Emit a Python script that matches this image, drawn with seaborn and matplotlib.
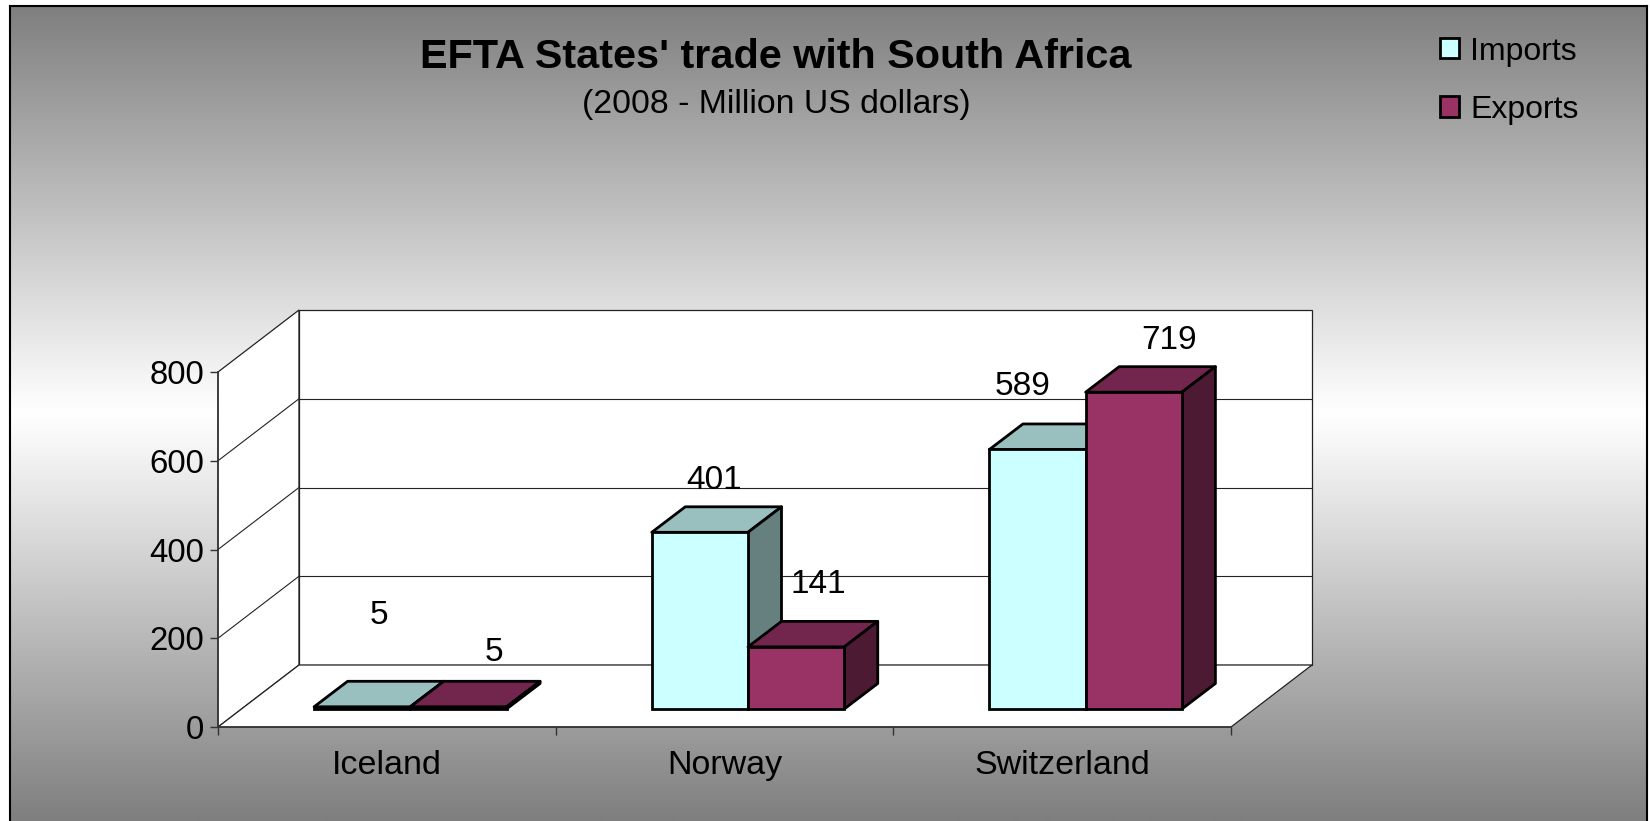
import numpy as np
import pandas as pd
import seaborn as sns
import matplotlib.pyplot as plt
from matplotlib.colors import LinearSegmentedColormap, to_rgb
from matplotlib.patches import Polygon
from matplotlib.transforms import Affine2D

# Chart data
countries = ["Iceland", "Norway", "Switzerland"]
imports = [5, 401, 589]
exports = [5, 141, 719]
y_ticks = [0, 200, 400, 600, 800]

colors = {"Imports": "#CCFFFF", "Exports": "#993366"}

# Label offsets from the bar's top centre, in pixels
label_nudge = {
    "Imports": [(17, 91), (14, 52), (-15, 63)],
    "Exports": [(36, 54), (22, 62), (35, 52)],
}

df = pd.DataFrame({
    "Country": countries * 2,
    "Series": ["Imports"] * 3 + ["Exports"] * 3,
    "Value": imports + exports,
})

sns.set_theme(style="white")
plt.rcParams["font.family"] = ["Liberation Sans", "DejaVu Sans"]

W, H = 1650, 821
fig = plt.figure(figsize=(W / 100, H / 100), dpi=100, facecolor="white")

# Background with vertical grey gradient
bg = fig.add_axes([10 / W, 0, (1647 - 10) / W, (H - 6) / H], zorder=0)
cmap = LinearSegmentedColormap.from_list(
    "bg", [(0, "#7f7f7f"), (0.46, "#f6f6f6"), (0.5, "#ffffff"), (0.54, "#f6f6f6"), (1, "#7f7f7f")]
)
bg.imshow(np.linspace(0, 1, 400).reshape(-1, 1), aspect="auto", cmap=cmap)
bg.set_xticks([])
bg.set_yticks([])
bg.spines["bottom"].set_visible(False)
for s in ["left", "top", "right"]:
    bg.spines[s].set_color("black")
    bg.spines[s].set_linewidth(1.5)

# Plot area is the front plane of the 3D box
ax = fig.add_axes([218 / W, (H - 727) / H, 1013 / W, 355 / H], zorder=1)
ax.patch.set_alpha(0)

BAR_LW = 2.0
sns.barplot(
    data=df, x="Country", y="Value", hue="Series",
    palette=colors, width=0.57, gap=0, saturation=1,
    edgecolor="black", linewidth=BAR_LW, ax=ax,
)
ax.set_xlim(-0.5, 2.5)
ax.set_ylim(0, 800)
ax.set_xlabel("")
ax.set_ylabel("")


def shifted(dx, dy):
    return ax.transData + Affine2D().translate(dx, dy)


# Walls and floor, offset by the depth of the box
DEPTH = (81, 62)
back = shifted(*DEPTH)
x0, x1 = ax.get_xlim()
y_top = y_ticks[-1]


def box_face(points, **kw):
    # points are (data x, data y, depth fraction)
    fig_pts = [ax.transData.transform((x, y)) + np.array(DEPTH) * d for x, y, d in points]
    ax.add_patch(Polygon(fig_pts, closed=True, transform=None, clip_on=False, **kw))


wall = dict(facecolor="white", edgecolor="#222222", linewidth=0.9, zorder=0.5)
box_face([(x0, 0, 0), (x0, y_top, 0), (x0, y_top, 1), (x0, 0, 1)], **wall)
box_face([(x0, 0, 1), (x0, y_top, 1), (x1, y_top, 1), (x1, 0, 1)], **wall)
box_face([(x0, 0, 0), (x0, 0, 1), (x1, 0, 1), (x1, 0, 0)], **wall)

for t in y_ticks[1:-1]:
    ax.plot([x0, x1], [t, t], color="#222222", lw=0.8, transform=back, clip_on=False, zorder=0.8)
    p0 = ax.transData.transform((x0, t))
    ax.plot([p0[0], p0[0] + DEPTH[0]], [p0[1], p0[1] + DEPTH[1]],
            color="#222222", lw=0.8, transform=None, clip_on=False, zorder=0.8)

# Bars: seaborn rectangles move to the middle of the box, top and side faces added
BAR_PLANE = (23.5, 18)
BAR_DEPTH = (33.5, 25.5)
BAR_SCALE = 0.993  # bars sit a little lower than the axis scale
base_y = ax.transData.transform((0, 0))[1]
bar_trans = ax.transData + Affine2D().translate(0, -base_y).scale(1, BAR_SCALE).translate(
    BAR_PLANE[0], base_y + BAR_PLANE[1])

for i, (name, bars) in enumerate(zip(colors, ax.containers)):
    front = to_rgb(colors[name])
    for j, bar in enumerate(bars):
        bar.set_transform(bar_trans)
        bar.set_clip_on(False)
        bar.set_zorder(5 + i + 0.2)
        left, right = bar.get_x(), bar.get_x() + bar.get_width()
        top = bar.get_height()
        a = bar_trans.transform((left, top))
        b = bar_trans.transform((right, top))
        c = bar_trans.transform((right, 0))
        d = np.array(BAR_DEPTH)
        edge = dict(edgecolor="black", linewidth=BAR_LW, joinstyle="round",
                    transform=None, clip_on=False, zorder=5 + i)
        ax.add_patch(Polygon([a, a + d, b + d, b], facecolor=np.array(front) * 0.75, **edge))
        ax.add_patch(Polygon([b, b + d, c + d, c], facecolor=np.array(front) * 0.5, **edge))
        ax.annotate(
            str(int(top)), xy=((left + right) / 2, top), xycoords=bar_trans,
            xytext=label_nudge[name][j], textcoords="offset pixels",
            ha="center", va="center", fontsize=24, color="black",
            annotation_clip=False, zorder=10,
        )

# Axes
for side in ["top", "right"]:
    ax.spines[side].set_visible(False)
for side in ["left", "bottom"]:
    ax.spines[side].set_color("#333333")
    ax.spines[side].set_linewidth(1.1)
    ax.spines[side].set_zorder(1)
ax.set_yticks(y_ticks)
ax.set_xticks([-0.5, 0.5, 1.5, 2.5], labels=[""] * 4)
ax.set_xticks([0, 1, 2], labels=countries, minor=True)
ax.tick_params(axis="y", which="major", left=True, length=5.8, width=1, color="#333333",
               labelsize=23.7, pad=4, labelcolor="black")
ax.tick_params(axis="x", which="major", bottom=True, length=5.8, width=1, color="#333333")
ax.tick_params(axis="x", which="minor", bottom=False, length=0, labelsize=24.5, pad=16.5,
               labelcolor="black")

# Legend
handles, labels = ax.get_legend_handles_labels()
for h in handles:
    h.set_linewidth(BAR_LW)
ax.legend(
    handles, labels, loc="upper left", bbox_to_anchor=(1414 / W, (H - 11) / H),
    bbox_transform=fig.transFigure, frameon=False, fontsize=23,
    handlelength=0.6, handleheight=0.6, handletextpad=0.36, labelspacing=0.88,
    borderpad=0.3, labelcolor="black",
)

# Title
fig.text(776 / W, (H - 57) / H, "EFTA States' trade with South Africa", ha="center", va="center",
         fontsize=29.8, fontweight="bold", color="black")
fig.text(776 / W, (H - 104) / H, "(2008 - Million US dollars)", ha="center", va="center",
         fontsize=24.3, color="black")

plt.savefig("out.png", dpi=100)
